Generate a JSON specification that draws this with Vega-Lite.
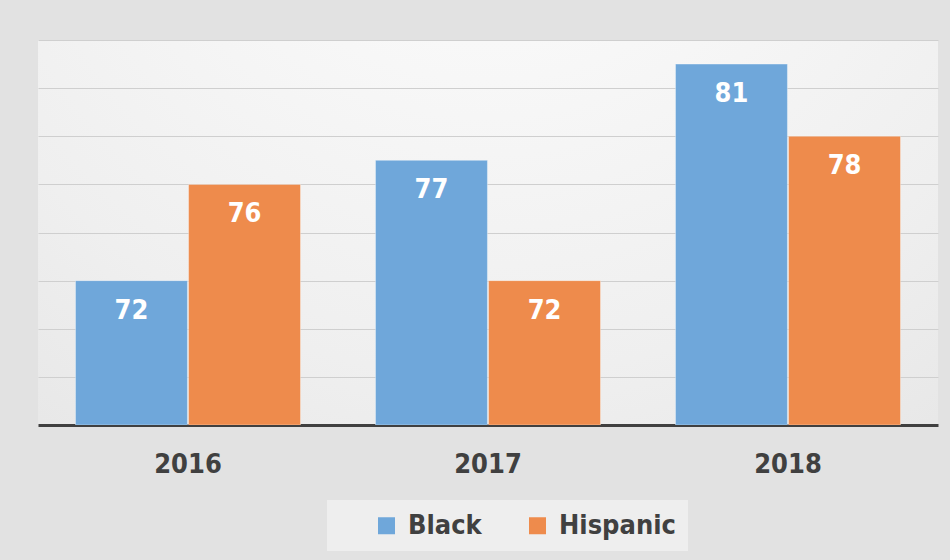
{
  "$schema": "https://vega.github.io/schema/vega-lite/v6.json",
  "width": 900,
  "height": 385,
  "autosize": {"type": "none"},
  "padding": {"left": 38, "top": 40, "right": 12, "bottom": 135},
  "background": "#e2e2e2",
  "config": {
    "view": {
      "stroke": null,
      "fill": {
        "gradient": "radial",
        "x1": 0.5, "y1": 0.0, "r1": 0,
        "x2": 0.5, "y2": 0.0, "r2": 1.1,
        "stops": [
          {"offset": 0, "color": "#ffffff"},
          {"offset": 0.6, "color": "#efefef"},
          {"offset": 1, "color": "#e0e0e0"}
        ]
      }
    },
    "font": "DejaVu Sans Condensed, Liberation Sans, sans-serif"
  },
  "data": {
    "values": [
      {"year": "2016", "group": "Black", "value": 72},
      {"year": "2016", "group": "Hispanic", "value": 76},
      {"year": "2017", "group": "Black", "value": 77},
      {"year": "2017", "group": "Hispanic", "value": 72},
      {"year": "2018", "group": "Black", "value": 81},
      {"year": "2018", "group": "Hispanic", "value": 78}
    ]
  },
  "encoding": {
    "x": {
      "field": "year",
      "type": "nominal",
      "scale": {"paddingInner": 0.25, "paddingOuter": 0.125},
      "axis": {
        "title": null,
        "labelAngle": 0,
        "labelFont": "DejaVu Sans Condensed, Liberation Sans, sans-serif",
        "labelFontSize": 27,
        "labelFontWeight": "bold",
        "labelColor": "#404040",
        "labelPadding": 26,
        "ticks": false,
        "domainColor": "#404040",
        "domainWidth": 3,
        "grid": false
      }
    },
    "xOffset": {
      "field": "group",
      "type": "nominal",
      "scale": {"paddingInner": 0.01}
    },
    "y": {
      "field": "value",
      "type": "quantitative",
      "scale": {"domain": [66, 82], "nice": false, "zero": false},
      "axis": {
        "title": null,
        "labels": false,
        "ticks": false,
        "domain": false,
        "values": [68, 70, 72, 74, 76, 78, 80, 82],
        "gridColor": "#cfcfcf",
        "gridWidth": 1.2
      }
    }
  },
  "layer": [
    {
      "mark": {"type": "bar", "clip": true, "stroke": "#ffffff", "strokeOpacity": 0.35, "strokeWidth": 1},
      "encoding": {
        "y2": {"datum": 66},
        "color": {
          "field": "group",
          "type": "nominal",
          "scale": {"domain": ["Black", "Hispanic"], "range": ["#6fa7da", "#ee8b4c"]},
          "legend": {
            "title": null,
            "orient": "none",
            "direction": "horizontal",
            "legendX": 289,
            "legendY": 460,
            "fillColor": "#eeeeee",
            "padding": 12,
            "symbolOffset": 34,
            "symbolType": "square",
            "symbolSize": 289,
            "symbolStrokeWidth": 0,
            "symbolOpacity": 1,
            "labelFont": "DejaVu Sans Condensed, Liberation Sans, sans-serif",
            "labelFontSize": 27,
            "labelFontWeight": "bold",
            "labelColor": "#404040",
            "labelOffset": 8,
            "columnPadding": 8,
            "labelLimit": 300
          }
        }
      }
    },
    {
      "mark": {
        "type": "text",
        "color": "#ffffff",
        "font": "DejaVu Sans Condensed, Liberation Sans, sans-serif",
        "fontSize": 27,
        "fontWeight": "bold",
        "baseline": "middle",
        "dy": 30
      },
      "encoding": {
        "text": {"field": "value", "type": "quantitative"}
      }
    }
  ]
}
